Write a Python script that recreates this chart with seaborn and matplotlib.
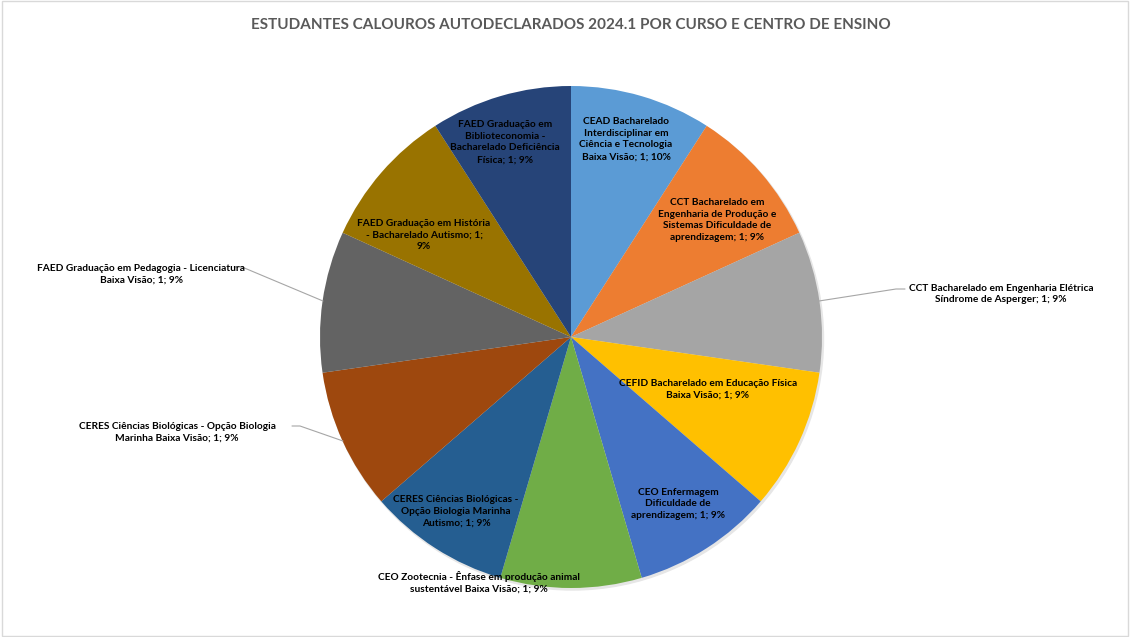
import matplotlib
matplotlib.use("Agg")
import matplotlib.pyplot as plt
import seaborn as sns
from matplotlib.patches import Rectangle, Circle

# Dados do grafico
cursos = [
    "CEAD Bacharelado\nInterdisciplinar em\nCiência e Tecnologia\nBaixa Visão",
    "CCT Bacharelado em\nEngenharia de Produção e\nSistemas Dificuldade de\naprendizagem",
    "CCT Bacharelado em Engenharia Elétrica\nSíndrome de Asperger",
    "CEFID Bacharelado em Educação Física\nBaixa Visão",
    "CEO Enfermagem\nDificuldade de\naprendizagem",
    "CEO Zootecnia - Ênfase em produção animal\nsustentável Baixa Visão",
    "CERES Ciências Biológicas -\nOpção Biologia Marinha\nAutismo",
    "CERES Ciências Biológicas - Opção Biologia\nMarinha Baixa Visão",
    "FAED Graduação em Pedagogia - Licenciatura\nBaixa Visão",
    "FAED Graduação em História\n- Bacharelado Autismo; 1;\n9%",
    "FAED Graduação em\nBiblioteconomia -\nBacharelado Deficiência\nFísica",
]
valores = [1, 1, 1, 1, 1, 1, 1, 1, 1, 1, 1]
percentuais = ["10%", "9%", "9%", "9%", "9%", "9%", "9%", "9%", "9%", "9%", "9%"]

cores = ["#5B9BD5", "#ED7D31", "#A5A5A5", "#FFC000", "#4472C4", "#70AD47",
         "#255E91", "#9E480E", "#636363", "#997300", "#264478"]

# posicoes dos rotulos em pixels (centro do texto)
pos_rotulos = [(626, 139), (717, 220), (1001, 294), (708, 389), (678, 504),
               (479, 582), (456, 511), (177, 432), (141, 274), (424, 235),
               (505, 142)]
# linhas de chamada: indice -> (ponto no texto, ponto na pizza)
chamadas = {2: [(905, 289), (896, 289), (819, 301)],
            7: [(292, 426), (300, 426), (343, 441)],
            8: [(234, 267), (242, 267), (323, 301)]}

CX, CY, R = 571, 337, 251


def px(x, y):
    return (x - CX) / R, (CY - y) / R


sns.set_theme(style="white")
plt.rcParams['font.family'] = ['Lato', 'DejaVu Sans']

fig = plt.figure(figsize=(11.3, 6.37), dpi=100)
fig.patches.append(Rectangle((0.002, 0.002), 0.996, 0.996, transform=fig.transFigure,
                             fill=False, edgecolor="#D9D9D9", linewidth=1))

ax = fig.add_axes([(CX - R) / 1130, (637 - CY - R) / 637, 2 * R / 1130, 2 * R / 637])
# sombra suave
ax.add_patch(Circle((0.006, -0.008), 1.0, color="#E6E6E6", zorder=0, clip_on=False))
ax.pie(valores, colors=cores, startangle=90, counterclock=False, radius=1,
       wedgeprops={"linewidth": 0})
ax.set_xlim(-1, 1)
ax.set_ylim(-1, 1)
ax.axis("off")

for i, (cat, val, pct) in enumerate(zip(cursos, valores, percentuais)):
    if i == 9:
        texto = cat
    else:
        texto = f"{cat}; {val}; {pct}"
    x, y = px(*pos_rotulos[i])
    ax.text(x, y, texto, ha="center", va="center", fontsize=7.3, fontweight="bold",
            color="#000000", linespacing=1.42)

for i, pts in chamadas.items():
    xs, ys = zip(*[px(*p) for p in pts])
    ax.plot(xs, ys, color="#A6A6A6", linewidth=0.8, clip_on=False)

fig.text(571 / 1130, 1 - 25 / 637,
         "ESTUDANTES CALOUROS AUTODECLARADOS 2024.1 POR CURSO E CENTRO DE ENSINO",
         ha="center", va="center", fontsize=11, fontweight="bold", color="#595959")

fig.savefig("out.png", dpi=100)
